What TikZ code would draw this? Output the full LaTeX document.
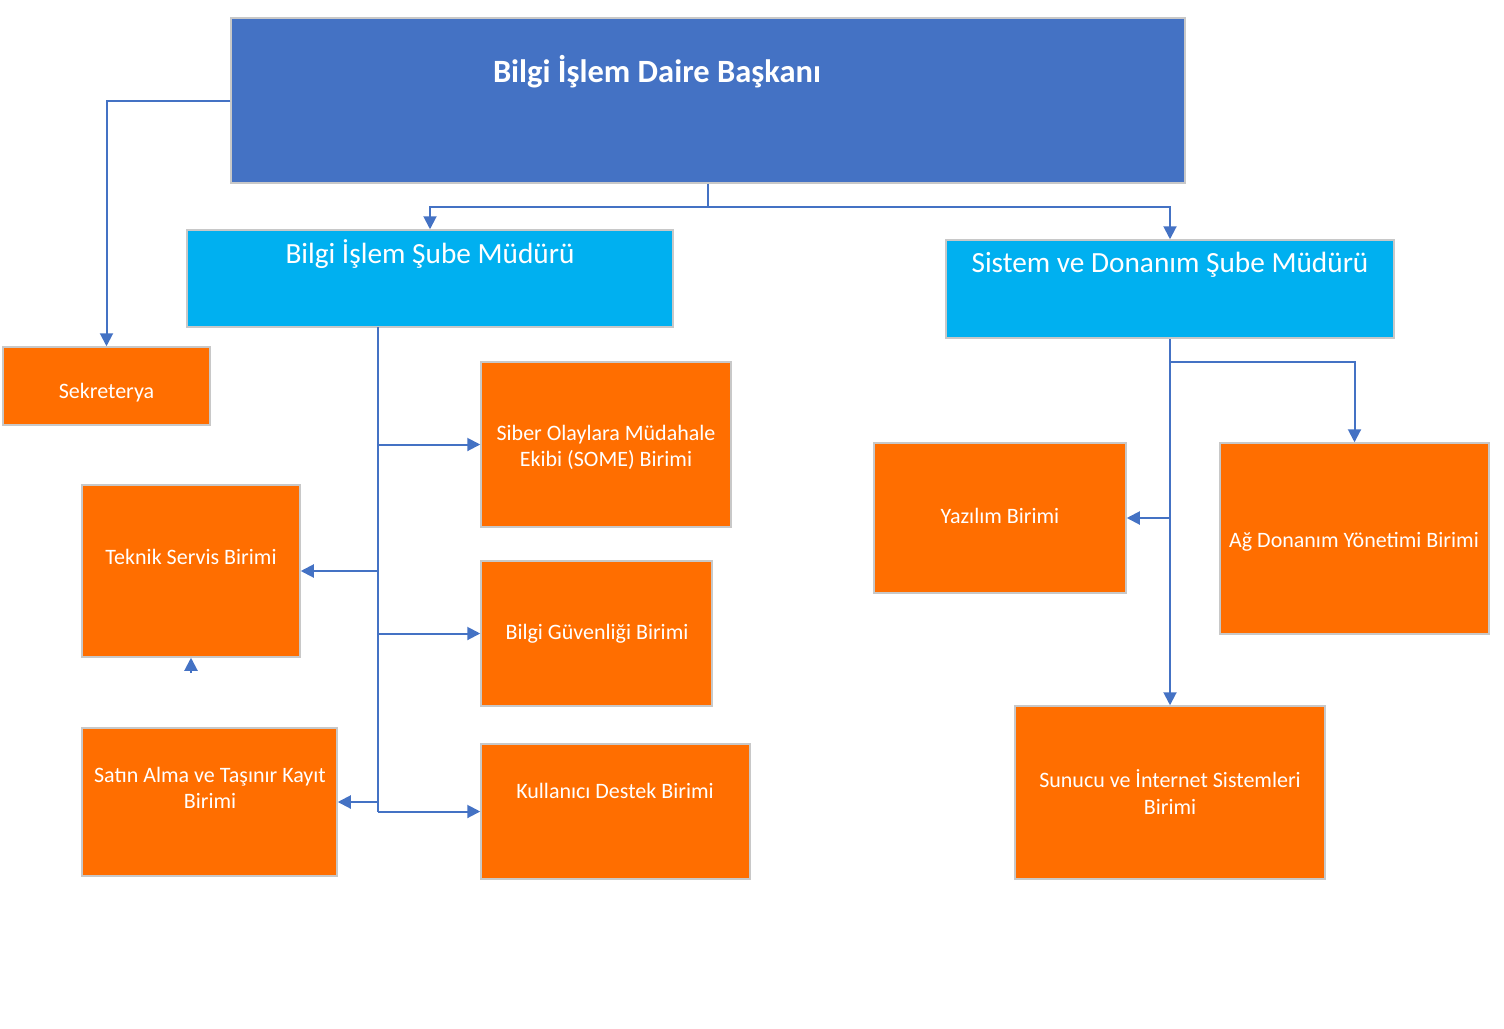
\documentclass[tikz,border=0pt]{standalone}
\usepackage{fontspec}
\setmainfont{Carlito}
\usepackage{xcolor}
\usetikzlibrary{arrows.meta, calc}

\definecolor{baskanmavi}{HTML}{4472C4}
\definecolor{subemavi}{HTML}{00B0F0}
\definecolor{birimturuncu}{HTML}{FF6E00}
\definecolor{kenargri}{HTML}{C8C8C8}

\begin{document}
\begin{tikzpicture}[x=1pt, y=-1pt]

    % --- 0. Zeichenfläche ---
    \useasboundingbox (0,0) rectangle (1504,1028);

    \tikzset{kutu/.style={draw=kenargri, line width=1.5pt, inner sep=0pt, anchor=center},
             baskan/.style={kutu, fill=baskanmavi},
             sube/.style={kutu, fill=subemavi},
             birim/.style={kutu, fill=birimturuncu},
             yazi/.style={text=white, align=center, font=\fontsize{22}{26.5}\selectfont},
             baglanti/.style={draw=baskanmavi, line width=2pt},
             ok/.style={baglanti, -{Triangle[length=13pt, width=13pt]}}}

    % --- 1. Daire Başkanı ---
    \node[baskan, minimum width=954pt, minimum height=165pt] (baskan) at (708,100.5) {};
    \node[yazi, font=\fontsize{32.5}{38}\selectfont\bfseries] (baskan-txt) at (657,72) {Bilgi İşlem Daire Başkanı};

    % --- 2. Şube Müdürleri ---
    \node[sube, minimum width=486pt, minimum height=97pt] (bism) at (430,278.5) {};
    \node[yazi, font=\fontsize{29.3}{34}\selectfont] (bism-txt) at (430,254) {Bilgi İşlem Şube Müdürü};

    \node[sube, minimum width=448pt, minimum height=98pt] (sdsm) at (1170,289) {};
    \node[yazi, font=\fontsize{29.3}{34}\selectfont] (sdsm-txt) at (1170,265) {Sistem ve Donanım Şube Müdürü};

    % --- 3. Birimler (links) ---
    \node[birim, minimum width=207pt, minimum height=78pt] (sek) at (106.5,386) {};
    \node[yazi] (sek-txt) at (106.5,393) {Sekreterya};

    \node[birim, minimum width=250pt, minimum height=165pt] (siber) at (606,444.5) {};
    \node[yazi] (siber-txt) at (606,447.5) {Siber Olaylara Müdahale\\Ekibi (SOME) Birimi};

    \node[birim, minimum width=218pt, minimum height=172pt] (teknik) at (191,571) {};
    \node[yazi] (teknik-txt) at (191,557) {Teknik Servis Birimi};

    \node[birim, minimum width=231pt, minimum height=145pt] (guvenlik) at (596.5,633.5) {};
    \node[yazi] (guvenlik-txt) at (597,634) {Bilgi Güvenliği Birimi};

    \node[birim, minimum width=255pt, minimum height=148pt] (satin) at (209.5,802) {};
    \node[yazi] (satin-txt) at (210,788) {Satın Alma ve Taşınır Kayıt\\Birimi};

    \node[birim, minimum width=269pt, minimum height=135pt] (kul) at (615.5,811.5) {};
    \node[yazi] (kul-txt) at (615,791) {Kullanıcı Destek Birimi};

    % --- 4. Birimler (rechts) ---
    \node[birim, minimum width=252pt, minimum height=150pt] (yazilim) at (1000,518) {};
    \node[yazi] (yazilim-txt) at (1000,516) {Yazılım Birimi};

    \node[birim, minimum width=269pt, minimum height=191pt] (ag) at (1354.5,538.5) {};
    \node[yazi] (ag-txt) at (1354,542) {Ağ Donanım Yönetimi Birimi};

    \node[birim, minimum width=310pt, minimum height=173pt] (sunucu) at (1170,792.5) {};
    \node[yazi] (sunucu-txt) at (1170,792) {Sunucu ve İnternet Sistemleri\\Birimi};

    % --- 5. Verbindungen von oben ---
    \coordinate (dal1) at (708,207);
    \draw[ok] (baskan.west) -| (sek.north);
    \draw[baglanti] (baskan.south) -- (dal1);
    \draw[ok] (dal1) -| (bism.north);
    \draw[ok] (dal1) -| (sdsm.north);

    % --- 6. Bilgi İşlem Şube Müdürü -> Birimler ---
    \coordinate (govde1) at (378,327);
    \coordinate (govde1-alt) at (378,811.5);
    \draw[baglanti] (govde1) -- (govde1-alt);
    \draw[ok] (govde1-alt) -- (kul.west);
    \draw[ok] (govde1 |- siber.west) -- (siber.west);
    \draw[ok] (govde1 |- teknik.east) -- (teknik.east);
    \draw[ok] (govde1 |- guvenlik.west) -- (guvenlik.west);
    \draw[ok] (govde1 |- satin.east) -- (satin.east);

    % kleiner Pfeil unter Teknik Servis
    \coordinate (kucuk-ok) at (191,673);
    \draw[ok] (kucuk-ok) -- (teknik.south);

    % --- 7. Sistem ve Donanım Şube Müdürü -> Birimler ---
    \coordinate (dal2) at (1170,362);
    \draw[ok] (sdsm.south) -- (sunucu.north);
    \draw[ok] (dal2) -| (ag.north);
    \draw[ok] (sdsm.south |- yazilim.east) -- (yazilim.east);

\end{tikzpicture}
\end{document}
